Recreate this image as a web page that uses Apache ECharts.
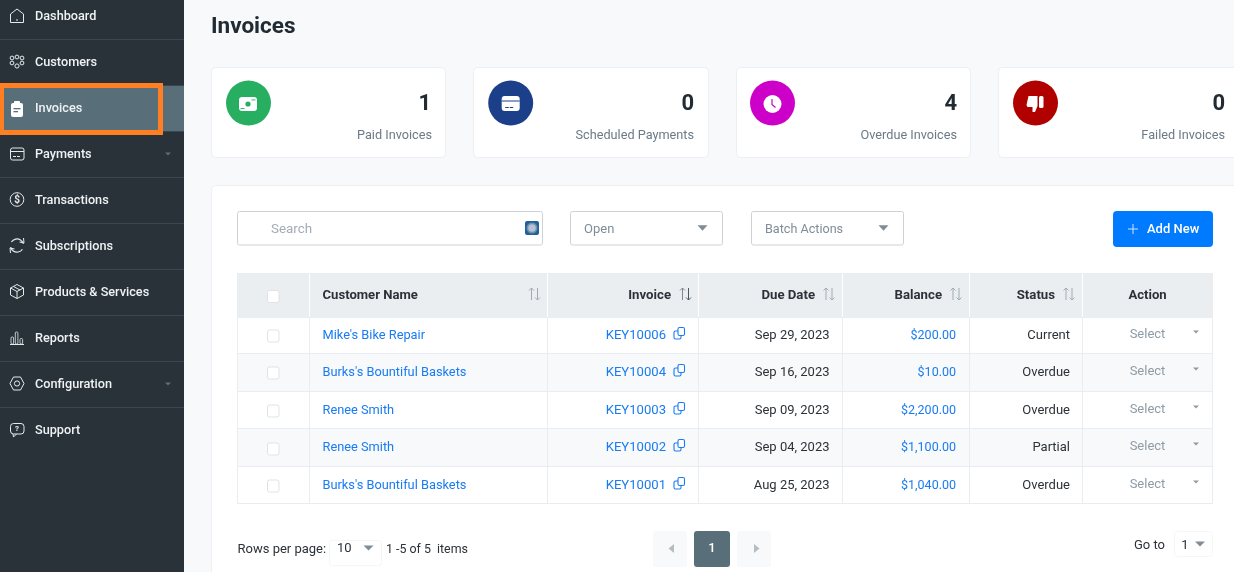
<!DOCTYPE html>
<html><head><meta charset="utf-8">
<style>html,body{margin:0;padding:0;background:#f8f9fb}#c{width:1234px;height:572px}</style>
<script src="https://cdn.jsdelivr.net/npm/echarts@6/dist/echarts.min.js"></script>
</head><body><div id="c"></div>
<script>
const navItems = ['Dashboard','Customers','Invoices','Payments','Transactions','Subscriptions','Products & Services','Reports','Configuration','Support'];
const cardLabels = ['Paid Invoices','Scheduled Payments','Overdue Invoices','Failed Invoices'];
const cardValues = ['1','0','4','0'];
const cardColors = ['#27ae60','#1c3f8a','#cc00c8','#b00000'];
const headers = ['Customer Name','Invoice','Due Date','Balance','Status','Action'];
const customers = ["Mike's Bike Repair","Burks's Bountiful Baskets",'Renee Smith','Renee Smith',"Burks's Bountiful Baskets"];
const invoices = ['KEY10006','KEY10004','KEY10003','KEY10002','KEY10001'];
const dueDates = ['Sep 29, 2023','Sep 16, 2023','Sep 09, 2023','Sep 04, 2023','Aug 25, 2023'];
const balances = ['$200.00','$10.00','$2,200.00','$1,100.00','$1,040.00'];
const statuses = ['Current','Overdue','Overdue','Partial','Overdue'];

const F = 'Roboto, sans-serif';
const TY = 2.5;
const els = [];
const rect = (x,y,w,h,fill,r,stroke,lw)=>els.push({type:'rect',shape:{x,y,width:w,height:h,r:r||0},style:{fill:fill||'none',stroke:stroke||null,lineWidth:lw||0}});
const circ = (cx,cy,r,fill,stroke,lw)=>els.push({type:'circle',shape:{cx,cy,r},style:{fill:fill||'none',stroke:stroke||null,lineWidth:lw||0}});
const line = (pts,stroke,lw)=>els.push({type:'polyline',shape:{points:pts},style:{fill:'none',stroke,lineWidth:lw||1}});
const poly = (pts,fill)=>els.push({type:'polygon',shape:{points:pts},style:{fill}});
const arc = (cx,cy,r,a,b,stroke,lw)=>els.push({type:'arc',shape:{cx,cy,r,startAngle:a,endAngle:b,clockwise:true},style:{fill:'none',stroke,lineWidth:lw||1}});
const txt = (s,x,y,size,fill,align,weight)=>els.push({type:'text',style:{text:s,x,y:y+TY,fill,align:align||'left',verticalAlign:'middle',font:(weight||400)+' '+size+'px '+F}});
const caret = (cx,cy,w,h,fill)=>poly([[cx-w/2,cy-h/2],[cx+w/2,cy-h/2],[cx,cy+h/2]],fill);

/* page */
rect(0,0,1234,572,'#f8f9fb');
/* sidebar */
const SB='#283238', SEP='#3a4750', ICO='#e6eaec';
rect(0,0,184,572,SB);
rect(0,85,184,46,'#586f7a');
navItems.forEach((n,i)=>{
  const y=15+46*i;
  txt(n,35,y-1,12.7,'#eef2f4','left',500);
  if(i<9 && i!==1 && i!==2) rect(0,y+24,184,1,SEP);
});
rect(0,85,184,1,SEP);rect(0,131,184,1,SEP);
caret(168,154,6,3,'#5f6e77');caret(168,384,6,3,'#5f6e77');
/* sidebar icons */
line([[10.5,14],[17,9],[23.5,14],[23.5,22.5],[10.5,22.5],[10.5,14]],ICO,1);
line([[17,19],[17,21]],ICO,1);
[[12,58],[22,58],[12,63],[22,63]].forEach(p=>circ(p[0],p[1],1.9,null,ICO,1));
circ(17,57,1.9,null,ICO,1);
circ(17,66,2.1,null,ICO,1);
rect(11,103,12,14,'#fff',2);rect(14,101,6,3.5,'#fff',1);
rect(13.5,108,7,1.3,'#586f7a');rect(13.5,111,4.5,1.3,'#586f7a');
rect(10.5,148,13.5,12,null,2,ICO,1);rect(10.5,151,13.5,1,ICO);rect(13,156,3,1,ICO);rect(17,156,3,1,ICO);
circ(17,199.5,6.8,null,ICO,1);txt('$',17,198,10,ICO,'center',700);
arc(17,245.5,6.6,3.7,6.0,ICO,1.2);arc(17,245.5,6.6,0.6,2.9,ICO,1.2);
line([[23.5,238],[24,243],[19.5,242]],ICO,1);line([[10.5,253],[10,248],[14.5,249]],ICO,1);
line([[17,284.5],[23.5,288],[23.5,295],[17,298.5],[10.5,295],[10.5,288],[17,284.5]],ICO,1);
line([[10.5,288],[17,291.5],[23.5,288]],ICO,1);line([[17,291.5],[17,298.5]],ICO,1);line([[13.5,286.5],[20,290]],ICO,1);
rect(10,344,14,1,ICO);
rect(11,337,2.6,7,null,1,ICO,.8);rect(15.3,332,2.6,12,null,1,ICO,.8);rect(20,338.5,2.6,5.5,null,1,ICO,.8);
line([[13.5,377],[20.5,377],[24,383.5],[20.5,390],[13.5,390],[10,383.5],[13.5,377]],ICO,1);
circ(17,383.5,2.6,null,ICO,1);
rect(10.5,423.5,13.5,10.5,null,3,ICO,1);
line([[13,434],[13.5,437],[16.5,434]],ICO,1);
txt('?',17,426.5,8,ICO,'center',700);
/* orange highlight */
rect(1.5,85.5,159,47,null,0,'#ff7f22',5);

/* title */
txt('Invoices',211,24.5,22.5,'#212b33','left',700);

/* cards */
const cardX=[212,474,737,999], cardW=[234,235,234,260];
const cardRight=[432,694,957,1225];
const cardIconCx=[248.5,510.7,772.5,1035.5];
cardLabels.forEach((l,i)=>{
  rect(cardX[i]-.5,67.5,cardW[i],90,'#fff',4,'#eceff3',1);
  circ(cardIconCx[i],103,22.5,cardColors[i]);
  txt(cardValues[i],cardRight[i]-(i===0?1:0),101.5,22,'#212b33','right',700);
  txt(l,cardRight[i],133.5,12.7,'#6b7a86','right');
});
/* card glyphs */
let c=cardIconCx[0];
rect(c-9.5,97,18,14,'#fff',3);circ(c-.5,104,2.6,'#27ae60');
rect(c-8,108,4,.9,'#27ae60');rect(c+3,99.5,4,.9,'#27ae60');
c=cardIconCx[1];
rect(c-9,96,18,15,'#fff',3);rect(c-9,100.5,18,1,cardColors[1]);rect(c-5.5,107,3.5,1,cardColors[1]);rect(c-1,107,3.5,1,cardColors[1]);
c=cardIconCx[2];
circ(c,104,9,'#fff');line([[c-.5,99],[c-.5,104.5],[c+3,107.5]],cardColors[2],1.2);
c=cardIconCx[3];
rect(c+3.5,96,4.5,12,'#fff',1.5);
poly([[c-7,96],[c+2,96],[c+2,106],[c-.5,112],[c-3,112],[c-3,107],[c-8,107],[c-9,105]],'#fff');

/* panel */
rect(211.5,185.5,1040,400,'#fff',4,'#eceff3',1);

/* toolbar */
const BOX='#ccd3d9';
rect(237.5,211.5,305,33.5,'#fff',2,BOX,1);
txt('Search',271,227.5,13.4,'#a3acb4');
rect(525,221,14,14,'#22609c',2);circ(532,228,5.5,'#6b93a8');circ(532,228,3.8,'#b6c0d6');
rect(570.5,211.5,152,33.5,'#fff',2,BOX,1);
txt('Open',584,227.5,13,'#7f8d99');caret(702.5,228,10,5.5,'#7f8d99');
rect(751.5,211.5,152,33.5,'#fff',2,BOX,1);
txt('Batch Actions',765,227.5,12.6,'#7f8d99');caret(883.5,228,10,5.5,'#7f8d99');
rect(1113,211,100,36,'#007bff',4);
rect(1128,228.5,10,1,'#cfe4ff');rect(1132.5,224,1,10,'#cfe4ff');
txt('Add New',1147,227.5,13,'#fff','left',500);

/* table */
const colX=[237,309,547,698,842,969,1082,1212];
const rowY=[317,353,391,428,466,503];
const GRID='#e9ecf0';
rect(237,273,976,44,'#ebeef1');
rect(237,353,976,38,'#f8f9fb');rect(237,391,976,37,'#fff');rect(237,428,976,38,'#f8f9fb');
rect(237,317,976,36,'#fff');rect(237,466,976,37,'#fff');
rowY.forEach(y=>rect(237,y,976,1,GRID));
colX.forEach((x,i)=>{
  rect(x,317,1,187,GRID);
  if(i>0&&i<7) rect(x,273,1,44,'#fff');
});
const checkY=[336,373,411,449,486];
rect(267.5,290.5,11.5,12,'#fff',2,'#dfe3e7',1);
checkY.forEach(y=>rect(267.5,y-6,11.5,12,'#fff',2,'#dfe3e7',1));

const hR=[null,671,815,942,1055];
txt(headers[0],322.5,293,13.1,'#2b3238','left',700);
[1,2,3,4].forEach(i=>txt(headers[i],hR[i],293,13.2,'#2b3238','right',700));
txt(headers[5],1147.5,293,13.1,'#2b3238','center',700);
const sortX=[534.5,685.5,829,956,1069];
sortX.forEach((x,i)=>{
  const a=i===1?'#7c8993':'#9fabb3', b=i===1?'#4a555d':'#9fabb3';
  line([[x-3,288],[x-3,300]],a,1);line([[x-5.5,290.5],[x-3,288],[x-.5,290.5]],a,1);
  line([[x+3,288],[x+3,300]],b,1);line([[x+.5,297.5],[x+3,300],[x+5.5,297.5]],b,1);
});
const rowTxtY=[333.5,370.5,408.5,445.5,483.5];
const LINK='#1a7cf2', TX='#2b3238';
customers.forEach((n,i)=>{
  const y=rowTxtY[i];
  txt(n,322.5,y,12.8,LINK);
  txt(invoices[i],666,y,13.1,LINK,'right');
  rect(674,y-2.5,7,8,null,1.5,LINK,1.1);
  rect(678,y-6,6.5,8,'#fff',1.5,LINK,1.1);
  txt(dueDates[i],829.5,y,13,TX,'right');
  txt(balances[i],956,y,12.5,LINK,'right');
  txt(statuses[i],1070,y,13,TX,'right');
  txt('Select',1147.5,y-1,13,'#8f9ba5','center');
  caret(1196,y-1.5,6,3,'#8f9ba5');
});

/* pagination */
txt('Rows per page:',237.5,547.5,13,TX);
rect(329.5,540.5,52,25,'#fff',3,'#f5f6f8',1);
txt('10',337,546,13,TX);caret(368.5,548,10,5,'#7f8d99');
txt('1 -5 of 5  items',386,547.5,12.4,TX);
rect(653,531,34,36,'#f8f9fb',3);poly([[674,544],[674,553],[668.5,548.5]],'#b4bdc4');
rect(694,531,36,36,'#586f7a',3);txt('1',712,546,13,'#fff','center',500);
rect(737,531,34,36,'#f8f9fb',3);poly([[754,544],[754,553],[759.5,548.5]],'#b4bdc4');
txt('Go to',1134,543,13,TX);
rect(1174.5,531.5,38,25,'#fff',3,'#f5f6f8',1);
txt('1',1185,543,13,TX,'center');caret(1200,544,10,5,'#7f8d99');

const chart=echarts.init(document.getElementById('c'),null,{renderer:'canvas',width:1234,height:572});
chart.setOption({animation:false,backgroundColor:'#f8f9fb',graphic:{elements:els}});
</script></body></html>
